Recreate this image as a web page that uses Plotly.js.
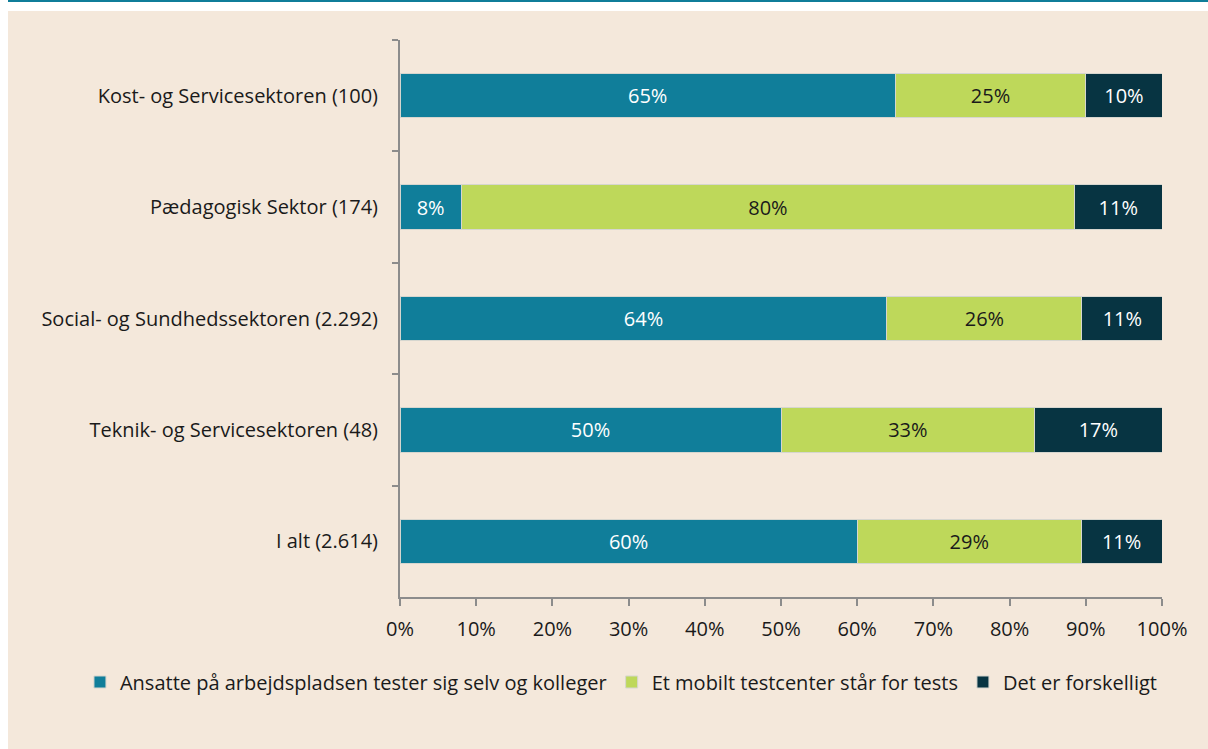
<!DOCTYPE html>
<html>
<head>
<meta charset="utf-8">
<script src="https://cdn.plot.ly/plotly-3.0.1.min.js"></script>
<style>
  html, body { margin: 0; padding: 0; background: #ffffff; width: 1208px; height: 749px; overflow: hidden; }
  #topline { position: absolute; left: 8px; top: 0; width: 1200px; height: 2px; background: #0f7d99; }
  #panel { position: absolute; left: 8px; top: 11px; width: 1200px; height: 738px; background: #f4e8db; }
  #chart { position: absolute; left: 0; top: 0; width: 1208px; height: 749px; }
</style>
</head>
<body>
<div id="topline"></div>
<div id="panel"></div>
<div id="chart"></div>
<script>
const categories = [
  "Kost- og Servicesektoren (100)",
  "Pædagogisk Sektor (174)",
  "Social- og Sundhedssektoren (2.292)",
  "Teknik- og Servicesektoren (48)",
  "I alt (2.614)"
];
const seriesNames = [
  "Ansatte på arbejdspladsen tester sig selv og kolleger",
  "Et mobilt testcenter står for tests",
  "Det er forskelligt"
];
const selfTest = [65.0, 8.05, 63.9, 50.0, 60.0];
const mobileCenter = [25.0, 80.46, 25.6, 33.3, 29.4];
const varies = [10.0, 11.49, 10.6, 16.7, 10.6];
const xTickVals = [0, 10, 20, 30, 40, 50, 60, 70, 80, 90, 100];

const colors = ["#107e9a", "#bed85a", "#073442"];
const textColors = ["#ffffff", "#1a1a1a", "#ffffff"];
const values = [selfTest, mobileCenter, varies];
const FONT = "'Open Sans', 'Noto Sans', sans-serif";
const FS = 20;

const traces = values.map((v, i) => ({
  type: "bar",
  orientation: "h",
  name: seriesNames[i],
  y: categories,
  x: v,
  marker: { color: colors[i], line: { color: "#d6d6cf", width: 1 } },
  texttemplate: "%{x:.0f}%",
  textposition: "inside",
  insidetextanchor: "middle",
  textangle: 0,
  insidetextfont: { color: textColors[i], size: FS, family: FONT },
  hoverinfo: "skip"
}));

const layout = {
  width: 1208,
  height: 749,
  barmode: "stack",
  bargap: 0.6,
  paper_bgcolor: "rgba(0,0,0,0)",
  plot_bgcolor: "rgba(0,0,0,0)",
  margin: { l: 400, r: 46, t: 40, b: 152, pad: 0, autoexpand: false },
  font: { family: FONT, size: FS, color: "#1a1a1a" },
  showlegend: true,
  legend: {
    orientation: "h",
    x: -0.42, xanchor: "left",
    y: -0.1526, yanchor: "middle",
    font: { size: FS, family: FONT, color: "#1a1a1a" },
    traceorder: "normal",
    itemwidth: 30,
    bgcolor: "rgba(0,0,0,0)"
  },
  xaxis: {
    range: [0, 100],
    tickvals: xTickVals,
    ticktext: xTickVals.map(v => v + "%"),
    showgrid: false,
    zeroline: false,
    showline: true,
    linecolor: "#8c8c8c",
    linewidth: 2,
    ticks: "outside",
    ticklen: 7,
    tickwidth: 2,
    tickcolor: "#8c8c8c",
    ticklabelstandoff: 6,
    tickfont: { size: FS, family: FONT, color: "#1a1a1a" },
    fixedrange: true
  },
  yaxis: {
    type: "category",
    autorange: "reversed",
    showgrid: false,
    zeroline: false,
    showline: true,
    linecolor: "#8c8c8c",
    linewidth: 2,
    ticks: "outside",
    tickson: "boundaries",
    ticklen: 6,
    tickwidth: 2,
    tickcolor: "#8c8c8c",
    ticklabelstandoff: 16,
    tickfont: { size: FS, family: FONT, color: "#1a1a1a" },
    fixedrange: true
  }
};

Plotly.newPlot("chart", traces, layout, { displayModeBar: false, staticPlot: true });
</script>
</body>
</html>
